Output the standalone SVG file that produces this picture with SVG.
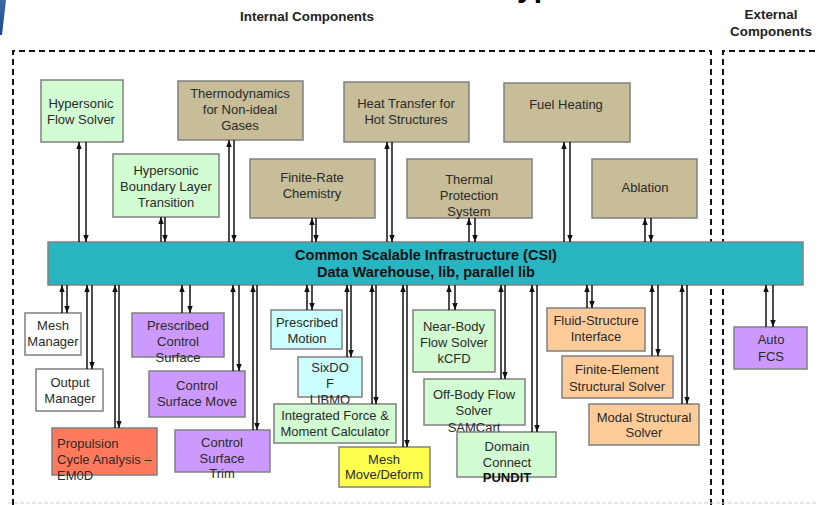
<svg xmlns="http://www.w3.org/2000/svg" width="818" height="505" viewBox="0 0 818 505">
<defs>
<marker id="ah" markerUnits="userSpaceOnUse" markerWidth="8" markerHeight="6" refX="7" refY="3" orient="auto"><path d="M0,0.3 L7,3 L0,5.7 z" fill="#111"/></marker>
<linearGradient id="bl" x1="0" y1="0" x2="0" y2="1"><stop offset="0" stop-color="#3a6aa8"/><stop offset="1" stop-color="#1d4a86"/></linearGradient>
</defs>
<style>
.b{stroke:#808080;stroke-width:1.5}
.g{fill:#d2fcd2}.t{fill:#c7bd98}.w{fill:#fff}.p{fill:#cc99ff}.r{fill:#ff7a5c}.c{fill:#ccffff}.y{fill:#ffff50}.o{fill:#ffcc99}
text{font-family:"Liberation Sans",Arial,sans-serif;font-size:13px;fill:#2a2a2a;text-anchor:middle}
.h{font-weight:bold;font-size:13.4px;fill:#222}
.csi{font-weight:bold;font-size:14.5px;fill:#111}
#connectors line{stroke:#111;stroke-width:1.5;marker-end:url(#ah)}
.dash{fill:none;stroke:#111;stroke-width:2;stroke-dasharray:6,4}
</style>
<rect width="818" height="505" fill="#fff"/>
<polygon points="0,0 6,0 2,35 0,35" fill="url(#bl)"/>
<text x="517" y="-3" style="font-size:30px;font-weight:bold;fill:#000;text-anchor:start">yp</text>
<text class="h" x="307" y="21">Internal Components</text>
<text class="h" x="771" y="19">External</text>
<text class="h" x="771" y="36">Components</text>
<path class="dash" d="M13,505 V51 H711 V505"/>
<path class="dash" d="M723,505 V51 H818"/>
<line x1="8" y1="503" x2="818" y2="503" stroke="#cfcfcf" stroke-width="1" stroke-dasharray="4,2"/>

<g id="csi"><rect class="b" x="48" y="242" width="755" height="43" fill="#29b4c1"/><text class="csi" x="426" y="260">Common  Scalable Infrastructure (CSI)</text><text class="csi" x="426" y="277">Data Warehouse, lib, parallel lib</text></g>

<g id="hfs"><rect class="b g" x="41" y="80" width="82" height="62"/><text x="81" y="107.5">Hypersonic</text><text x="81" y="123.5">Flow Solver</text></g>
<g id="thermo"><rect class="b t" x="178" y="81" width="125" height="59"/><text x="240" y="97.5">Thermodynamics</text><text x="240" y="113.5">for Non-ideal</text><text x="240" y="130">Gases</text></g>
<g id="heat"><rect class="b t" x="344" y="82" width="125" height="60"/><text x="406" y="107.5">Heat Transfer for</text><text x="406" y="124">Hot Structures</text></g>
<g id="fuel"><rect class="b t" x="504" y="83" width="126" height="59"/><text x="566" y="108.5">Fuel Heating</text></g>
<g id="hblt"><rect class="b g" x="113" y="154" width="106" height="63"/><text x="166" y="174.5">Hypersonic</text><text x="166" y="190.5">Boundary Layer</text><text x="166" y="206.5">Transition</text></g>
<g id="frc"><rect class="b t" x="250" y="159" width="125" height="59"/><text x="312" y="181.5">Finite-Rate</text><text x="312" y="197.5">Chemistry</text></g>
<g id="tps"><rect class="b t" x="407" y="159" width="125" height="59"/><text x="469" y="183.5">Thermal</text><text x="469" y="199.5">Protection</text><text x="469" y="216">System</text></g>
<g id="ablation"><rect class="b t" x="592" y="159" width="105" height="59"/><text x="645" y="191.5">Ablation</text></g>

<g id="meshmgr"><rect class="b w" x="25" y="313" width="56" height="42"/><text x="53" y="329.5">Mesh</text><text x="53" y="345.5">Manager</text></g>
<g id="outmgr"><rect class="b w" x="36" y="369" width="67" height="42"/><text x="70" y="386.5">Output</text><text x="70" y="402.5">Manager</text></g>
<g id="propulsion"><rect class="b r" x="52" y="428" width="105" height="47"/><text x="57" y="447.5" style="text-anchor:start">Propulsion</text><text x="57" y="463.5" style="text-anchor:start">Cycle Analysis –</text><text x="57" y="479.5" style="text-anchor:start">EM0D</text></g>
<g id="pcs"><rect class="b p" x="132" y="313" width="92" height="44"/><text x="178" y="329.5">Prescribed</text><text x="178" y="345.5">Control</text><text x="178" y="361.5">Surface</text></g>
<g id="csm"><rect class="b p" x="149" y="371" width="96" height="46"/><text x="197" y="389.5">Control</text><text x="197" y="406">Surface Move</text></g>
<g id="cst"><rect class="b p" x="175" y="430" width="95" height="42"/><text x="222" y="446.5">Control</text><text x="222" y="462.5">Surface</text><text x="222" y="478">Trim</text></g>
<g id="pm"><rect class="b c" x="271" y="310" width="71" height="39"/><text x="307" y="326.5">Prescribed</text><text x="307" y="343">Motion</text></g>
<g id="sixdof"><rect class="b c" x="298" y="357" width="64" height="40"/><text x="330" y="372">SixDO</text><text x="330" y="388">F</text><text x="330" y="404">LIBMO</text></g>
<g id="ifm"><rect class="b g" x="274" y="404" width="122" height="39"/><text x="335" y="419.5">Integrated Force &amp;</text><text x="335" y="436">Moment Calculator</text></g>
<g id="mmd"><rect class="b y" x="339" y="447" width="91" height="40"/><text x="384" y="463.5">Mesh</text><text x="384" y="479">Move/Deform</text></g>
<g id="nearbody"><rect class="b g" x="413" y="310" width="82" height="62"/><text x="454" y="330.5">Near-Body</text><text x="454" y="346.5">Flow Solver</text><text x="454" y="362.5">kCFD</text></g>
<g id="offbody"><rect class="b g" x="424" y="379" width="101" height="46"/><text x="474" y="398.5">Off-Body Flow</text><text x="474" y="415">Solver</text><text x="474" y="431.5">SAMCart</text></g>
<g id="domain"><rect class="b g" x="457" y="432" width="99" height="45"/><text x="507" y="450.5">Domain</text><text x="507" y="466.5">Connect</text><text x="507" y="481.5" style="font-weight:bold;fill:#111">PUNDIT</text></g>
<g id="fsi"><rect class="b o" x="547" y="308" width="98" height="43"/><text x="596" y="324.5">Fluid-Structure</text><text x="596" y="341">Interface</text></g>
<g id="fe"><rect class="b o" x="562" y="356" width="111" height="42"/><text x="617" y="373.5">Finite-Element</text><text x="617" y="390.5">Structural Solver</text></g>
<g id="modal"><rect class="b o" x="589" y="404" width="110" height="41"/><text x="644" y="421.5">Modal Structural</text><text x="644" y="436.5">Solver</text></g>
<g id="autofcs"><rect class="b p" x="734" y="327" width="73" height="42"/><text x="771" y="343.5">Auto</text><text x="771" y="360.5">FCS</text></g>

<g id="connectors">
<line x1="79" y1="242" x2="79" y2="142"/><line x1="86" y1="142" x2="86" y2="242"/>
<line x1="161" y1="242" x2="161" y2="217"/><line x1="165" y1="217" x2="165" y2="242"/>
<line x1="229" y1="242" x2="229" y2="140"/><line x1="234" y1="140" x2="234" y2="242"/>
<line x1="312" y1="242" x2="312" y2="218"/><line x1="316" y1="218" x2="316" y2="242"/>
<line x1="387" y1="242" x2="387" y2="142"/><line x1="392" y1="142" x2="392" y2="242"/>
<line x1="469" y1="242" x2="469" y2="218"/><line x1="475" y1="218" x2="475" y2="242"/>
<line x1="564" y1="242" x2="564" y2="142"/><line x1="570" y1="142" x2="570" y2="242"/>
<line x1="645" y1="242" x2="645" y2="218"/><line x1="651" y1="218" x2="651" y2="242"/>

<line x1="62" y1="313" x2="62" y2="285"/><line x1="67" y1="285" x2="67" y2="313"/>
<line x1="87" y1="369" x2="87" y2="285"/><line x1="92" y1="285" x2="92" y2="369"/>
<line x1="115" y1="428" x2="115" y2="285"/><line x1="119" y1="285" x2="119" y2="428"/>
<line x1="182" y1="313" x2="182" y2="285"/><line x1="190" y1="285" x2="190" y2="313"/>
<line x1="233" y1="371" x2="233" y2="285"/><line x1="239" y1="285" x2="239" y2="371"/>
<line x1="253" y1="430" x2="253" y2="285"/><line x1="257" y1="285" x2="257" y2="430"/>
<line x1="307" y1="310" x2="307" y2="285"/><line x1="312" y1="285" x2="312" y2="310"/>
<line x1="347" y1="357" x2="347" y2="285"/><line x1="351" y1="285" x2="351" y2="357"/>
<line x1="372" y1="404" x2="372" y2="285"/><line x1="376" y1="285" x2="376" y2="404"/>
<line x1="403" y1="447" x2="403" y2="285"/><line x1="407" y1="285" x2="407" y2="447"/>
<line x1="449" y1="310" x2="449" y2="285"/><line x1="455" y1="285" x2="455" y2="310"/>
<line x1="501" y1="379" x2="501" y2="285"/><line x1="505" y1="285" x2="505" y2="379"/>
<line x1="532" y1="432" x2="532" y2="285"/><line x1="537" y1="285" x2="537" y2="432"/>
<line x1="587" y1="308" x2="587" y2="285"/><line x1="592" y1="285" x2="592" y2="308"/>
<line x1="652" y1="356" x2="652" y2="285"/><line x1="658" y1="285" x2="658" y2="356"/>
<line x1="682" y1="404" x2="682" y2="285"/><line x1="687" y1="285" x2="687" y2="404"/>
<line x1="766" y1="327" x2="766" y2="285"/><line x1="773" y1="285" x2="773" y2="327"/>
</g>
</svg>
